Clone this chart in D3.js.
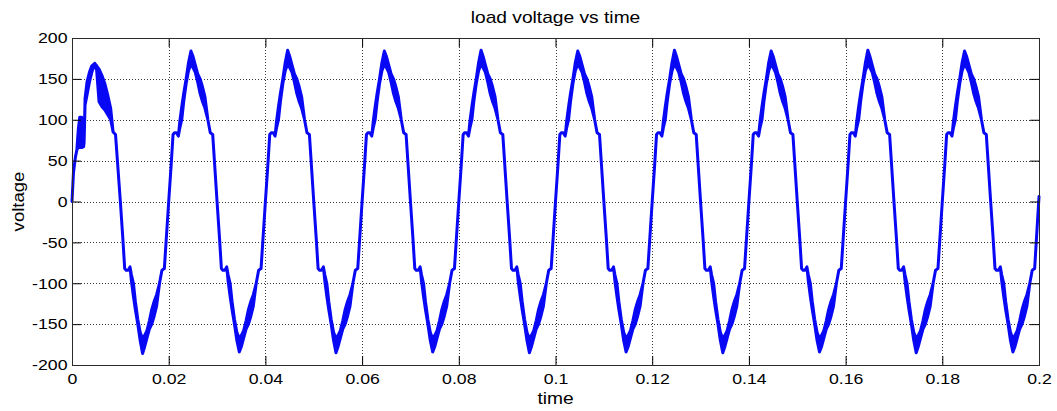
<!DOCTYPE html>
<html>
<head>
<meta charset="utf-8">
<script src="https://cdn.jsdelivr.net/npm/d3@7"></script>
<style>
  html, body { margin: 0; padding: 0; background: #ffffff; }
  svg { display: block; }
  text { font-family: "Liberation Sans", Arial, Helvetica, sans-serif; fill: #000; }
</style>
</head>
<body>
<svg id="chart" width="1057" height="411"></svg>
<script>
// Load voltage samples: time (s) and the lower / upper envelope of the trace (V).
// Where the switching ripple makes the trace thick, low and high differ.
const time = [
  0.0000,0.0003,0.0007,0.0010,0.0013,0.0016,0.0020,0.0024,0.0025,0.0027,0.0031,0.0036,0.0041,0.0047,0.0051,0.0056,0.0062,0.0068,0.0074,0.0080,0.0085,0.0090,
  0.0100,0.0105,0.0109,0.0112,0.0116,0.0120,0.0123,0.0127,0.0131,0.0136,0.0141,0.0146,0.0150,0.0155,0.0160,0.0165,0.0170,0.0175,0.0181,0.0186,0.0191,
  0.0200,0.0205,0.0209,0.0212,0.0216,0.0220,0.0223,0.0227,0.0231,0.0236,0.0241,0.0246,0.0250,0.0255,0.0260,0.0265,0.0270,0.0275,0.0281,0.0286,0.0291,
  0.0300,0.0305,0.0309,0.0312,0.0316,0.0320,0.0323,0.0327,0.0331,0.0336,0.0341,0.0346,0.0350,0.0355,0.0360,0.0365,0.0370,0.0375,0.0381,0.0386,0.0391,
  0.0400,0.0405,0.0409,0.0412,0.0416,0.0420,0.0423,0.0427,0.0431,0.0436,0.0441,0.0446,0.0450,0.0455,0.0460,0.0465,0.0470,0.0475,0.0481,0.0486,0.0491,
  0.0500,0.0505,0.0509,0.0512,0.0516,0.0520,0.0523,0.0527,0.0531,0.0536,0.0541,0.0546,0.0550,0.0555,0.0560,0.0565,0.0570,0.0575,0.0581,0.0586,0.0591,
  0.0600,0.0605,0.0609,0.0612,0.0616,0.0620,0.0623,0.0627,0.0631,0.0636,0.0641,0.0646,0.0650,0.0655,0.0660,0.0665,0.0670,0.0675,0.0681,0.0686,0.0691,
  0.0700,0.0705,0.0709,0.0712,0.0716,0.0720,0.0723,0.0727,0.0731,0.0736,0.0741,0.0746,0.0750,0.0755,0.0760,0.0765,0.0770,0.0775,0.0781,0.0786,0.0791,
  0.0800,0.0805,0.0809,0.0812,0.0816,0.0820,0.0823,0.0827,0.0831,0.0836,0.0841,0.0846,0.0850,0.0855,0.0860,0.0865,0.0870,0.0875,0.0881,0.0886,0.0891,
  0.0900,0.0905,0.0909,0.0912,0.0916,0.0920,0.0923,0.0927,0.0931,0.0936,0.0941,0.0946,0.0950,0.0955,0.0960,0.0965,0.0970,0.0975,0.0981,0.0986,0.0991,
  0.1000,0.1005,0.1009,0.1012,0.1016,0.1020,0.1023,0.1027,0.1031,0.1036,0.1041,0.1046,0.1050,0.1055,0.1060,0.1065,0.1070,0.1075,0.1081,0.1086,0.1091,
  0.1100,0.1105,0.1109,0.1112,0.1116,0.1120,0.1123,0.1127,0.1131,0.1136,0.1141,0.1146,0.1150,0.1155,0.1160,0.1165,0.1170,0.1175,0.1181,0.1186,0.1191,
  0.1200,0.1205,0.1209,0.1212,0.1216,0.1220,0.1223,0.1227,0.1231,0.1236,0.1241,0.1246,0.1250,0.1255,0.1260,0.1265,0.1270,0.1275,0.1281,0.1286,0.1291,
  0.1300,0.1305,0.1309,0.1312,0.1316,0.1320,0.1323,0.1327,0.1331,0.1336,0.1341,0.1346,0.1350,0.1355,0.1360,0.1365,0.1370,0.1375,0.1381,0.1386,0.1391,
  0.1400,0.1405,0.1409,0.1412,0.1416,0.1420,0.1423,0.1427,0.1431,0.1436,0.1441,0.1446,0.1450,0.1455,0.1460,0.1465,0.1470,0.1475,0.1481,0.1486,0.1491,
  0.1500,0.1505,0.1509,0.1512,0.1516,0.1520,0.1523,0.1527,0.1531,0.1536,0.1541,0.1546,0.1550,0.1555,0.1560,0.1565,0.1570,0.1575,0.1581,0.1586,0.1591,
  0.1600,0.1605,0.1609,0.1612,0.1616,0.1620,0.1623,0.1627,0.1631,0.1636,0.1641,0.1646,0.1650,0.1655,0.1660,0.1665,0.1670,0.1675,0.1681,0.1686,0.1691,
  0.1700,0.1705,0.1709,0.1712,0.1716,0.1720,0.1723,0.1727,0.1731,0.1736,0.1741,0.1746,0.1750,0.1755,0.1760,0.1765,0.1770,0.1775,0.1781,0.1786,0.1791,
  0.1800,0.1805,0.1809,0.1812,0.1816,0.1820,0.1823,0.1827,0.1831,0.1836,0.1841,0.1846,0.1850,0.1855,0.1860,0.1865,0.1870,0.1875,0.1881,0.1886,0.1891,
  0.1900,0.1905,0.1909,0.1912,0.1916,0.1920,0.1923,0.1927,0.1931,0.1936,0.1941,0.1946,0.1950,0.1955,0.1960,0.1965,0.1970,0.1975,0.1981,0.1986,0.1991,
  0.2000
];

const vLow = [
  0,35,54,63,66,66,66,67,72,118,130,146,158,169,160,122,116,112,106,100,85,82,
  0,-44,-82,-84,-84,-80,-98,-116,-132,-150,-170,-186,-178,-167,-156,-150,-140,-128,-100,-84,-82,
  0,44,82,84,84,80,90,100,122,144,160,168,164,158,146,132,122,114,100,84,82,
  0,-44,-82,-84,-84,-80,-98,-116,-132,-150,-170,-184,-178,-167,-156,-150,-140,-128,-100,-84,-82,
  0,44,82,84,84,80,90,100,122,144,160,168,164,158,146,132,122,114,100,84,82,
  0,-44,-82,-84,-84,-80,-98,-116,-132,-150,-170,-185,-178,-167,-156,-150,-140,-128,-100,-84,-82,
  0,44,82,84,84,80,90,100,122,144,160,168,164,158,146,132,122,114,100,84,82,
  0,-44,-82,-84,-84,-80,-98,-116,-132,-150,-170,-184,-178,-167,-156,-150,-140,-128,-100,-84,-82,
  0,44,82,84,84,80,90,100,122,144,160,168,164,158,146,132,122,114,100,84,82,
  0,-44,-82,-84,-84,-80,-98,-116,-132,-150,-170,-185,-178,-167,-156,-150,-140,-128,-100,-84,-82,
  0,44,82,84,84,80,90,100,122,144,160,168,164,158,146,132,122,114,100,84,82,
  0,-44,-82,-84,-84,-80,-98,-116,-132,-150,-170,-184,-178,-167,-156,-150,-140,-128,-100,-84,-82,
  0,44,82,84,84,80,90,100,122,144,160,168,164,158,146,132,122,114,100,84,82,
  0,-44,-82,-84,-84,-80,-98,-116,-132,-150,-170,-185,-178,-167,-156,-150,-140,-128,-100,-84,-82,
  0,44,82,84,84,80,90,100,122,144,160,168,164,158,146,132,122,114,100,84,82,
  0,-44,-82,-84,-84,-80,-98,-116,-132,-150,-170,-184,-178,-167,-156,-150,-140,-128,-100,-84,-82,
  0,44,82,84,84,80,90,100,122,144,160,168,164,158,146,132,122,114,100,84,82,
  0,-44,-82,-84,-84,-80,-98,-116,-132,-150,-170,-185,-178,-167,-156,-150,-140,-128,-100,-84,-82,
  0,44,82,84,84,80,90,100,122,144,160,168,164,158,146,132,122,114,100,84,82,
  0,-44,-82,-84,-84,-80,-98,-116,-132,-150,-170,-184,-178,-167,-156,-150,-140,-128,-100,-84,-82,
  6
];

const vHigh = [
  0,35,54,63,88,103,103,72,72,126,146,158,166,169,166,162,154,144,130,114,85,82,
  0,-44,-82,-84,-84,-80,-90,-100,-122,-144,-160,-168,-164,-158,-146,-132,-122,-114,-100,-84,-82,
  0,44,82,84,84,80,98,116,132,150,170,184,178,167,156,150,140,128,100,84,82,
  0,-44,-82,-84,-84,-80,-90,-100,-122,-144,-160,-168,-164,-158,-146,-132,-122,-114,-100,-84,-82,
  0,44,82,84,84,80,98,116,132,150,170,185,178,167,156,150,140,128,100,84,82,
  0,-44,-82,-84,-84,-80,-90,-100,-122,-144,-160,-168,-164,-158,-146,-132,-122,-114,-100,-84,-82,
  0,44,82,84,84,80,98,116,132,150,170,184,178,167,156,150,140,128,100,84,82,
  0,-44,-82,-84,-84,-80,-90,-100,-122,-144,-160,-168,-164,-158,-146,-132,-122,-114,-100,-84,-82,
  0,44,82,84,84,80,98,116,132,150,170,185,178,167,156,150,140,128,100,84,82,
  0,-44,-82,-84,-84,-80,-90,-100,-122,-144,-160,-168,-164,-158,-146,-132,-122,-114,-100,-84,-82,
  0,44,82,84,84,80,98,116,132,150,170,184,178,167,156,150,140,128,100,84,82,
  0,-44,-82,-84,-84,-80,-90,-100,-122,-144,-160,-168,-164,-158,-146,-132,-122,-114,-100,-84,-82,
  0,44,82,84,84,80,98,116,132,150,170,185,178,167,156,150,140,128,100,84,82,
  0,-44,-82,-84,-84,-80,-90,-100,-122,-144,-160,-168,-164,-158,-146,-132,-122,-114,-100,-84,-82,
  0,44,82,84,84,80,98,116,132,150,170,184,178,167,156,150,140,128,100,84,82,
  0,-44,-82,-84,-84,-80,-90,-100,-122,-144,-160,-168,-164,-158,-146,-132,-122,-114,-100,-84,-82,
  0,44,82,84,84,80,98,116,132,150,170,185,178,167,156,150,140,128,100,84,82,
  0,-44,-82,-84,-84,-80,-90,-100,-122,-144,-160,-168,-164,-158,-146,-132,-122,-114,-100,-84,-82,
  0,44,82,84,84,80,98,116,132,150,170,184,178,167,156,150,140,128,100,84,82,
  0,-44,-82,-84,-84,-80,-90,-100,-122,-144,-160,-168,-164,-158,-146,-132,-122,-114,-100,-84,-82,
  6
];

const xTicks = [0, 0.02, 0.04, 0.06, 0.08, 0.1, 0.12, 0.14, 0.16, 0.18, 0.2];
const xTickLabels = ["0", "0.02", "0.04", "0.06", "0.08", "0.1", "0.12", "0.14", "0.16", "0.18", "0.2"];
const yTicks = [-200, -150, -100, -50, 0, 50, 100, 150, 200];
const yTickLabels = ["-200", "-150", "-100", "-50", "0", "50", "100", "150", "200"];

const titleText = "load voltage vs time";
const xLabelText = "time";
const yLabelText = "voltage";

// ---- layout ----
const W = 1057, H = 411;
const margin = { top: 38, right: 18, bottom: 46, left: 72 };
const plotW = W - margin.left - margin.right;
const plotH = H - margin.top - margin.bottom;
const tickLen = 9;
const traceColor = "#0808f4";
const tickFont = 15, labelFont = 16;
const tickStretch = 1.18, labelStretch = 1.2;

const svg = d3.select("#chart");

const x = d3.scaleLinear().domain([0, 0.2]).range([0, plotW]);
const y = d3.scaleLinear().domain([-200, 200]).range([plotH, 0]);

const g = svg.append("g").attr("transform", `translate(${margin.left},${margin.top})`);

// dotted grid at every interior tick
const grid = g.append("g").attr("class", "grid")
  .attr("stroke", "#3a3a3a").attr("stroke-width", 1).attr("stroke-dasharray", "1,2");
grid.selectAll("line.gx").data(xTicks.slice(1, -1)).join("line")
  .attr("class", "gx")
  .attr("x1", d => Math.round(x(d)) + 0.5).attr("x2", d => Math.round(x(d)) + 0.5)
  .attr("y1", 0).attr("y2", plotH);
grid.selectAll("line.gy").data(yTicks.slice(1, -1)).join("line")
  .attr("class", "gy")
  .attr("y1", d => Math.round(y(d)) + 0.5).attr("y2", d => Math.round(y(d)) + 0.5)
  .attr("x1", 0).attr("x2", plotW);

// voltage trace: filled band between envelopes, outlined so thin parts read as a line
const samples = time.map((t, i) => ({ t, lo: vLow[i], hi: vHigh[i] }));
const band = d3.area()
  .x(d => x(d.t))
  .y0(d => y(d.lo))
  .y1(d => y(d.hi));
g.append("path")
  .datum(samples)
  .attr("d", band)
  .attr("fill", traceColor)
  .attr("stroke", traceColor)
  .attr("stroke-width", 3)
  .attr("stroke-linejoin", "round")
  .attr("stroke-linecap", "round");

// axes with inward ticks on all four sides
function styleAxis(sel) {
  sel.select(".domain").remove();
  sel.selectAll(".tick line").attr("stroke", "#000").attr("stroke-width", 1);
  sel.selectAll(".tick text").style("font-size", tickFont + "px").attr("fill", "#000");
}

const xAxisBottom = d3.axisBottom(x).tickValues(xTicks)
  .tickFormat((d, i) => xTickLabels[i]).tickSizeInner(-tickLen).tickSizeOuter(0).tickPadding(8);
const xb = g.append("g").attr("transform", `translate(0,${plotH})`).call(xAxisBottom).call(styleAxis);
xb.selectAll(".tick text").attr("transform", `scale(${tickStretch},1)`);

const xAxisTop = d3.axisTop(x).tickValues(xTicks).tickFormat("").tickSizeInner(-tickLen).tickSizeOuter(0);
g.append("g").call(xAxisTop).call(styleAxis);

const yAxisLeft = d3.axisLeft(y).tickValues(yTicks)
  .tickFormat((d, i) => yTickLabels[i]).tickSizeInner(-tickLen).tickSizeOuter(0).tickPadding(4);
const yl = g.append("g").call(yAxisLeft).call(styleAxis);
yl.selectAll(".tick text").attr("x", -4.5 / tickStretch).attr("transform", `scale(${tickStretch},1)`);

const yAxisRight = d3.axisRight(y).tickValues(yTicks).tickFormat("").tickSizeInner(-tickLen).tickSizeOuter(0);
g.append("g").attr("transform", `translate(${plotW},0)`).call(yAxisRight).call(styleAxis);

// axes box
g.append("rect")
  .attr("x", 0.5).attr("y", 0.5)
  .attr("width", plotW).attr("height", plotH)
  .attr("fill", "none").attr("stroke", "#2a2a2a").attr("stroke-width", 1);

// title and axis labels
svg.append("g")
  .attr("transform", `translate(${margin.left + plotW / 2},23) scale(${labelStretch},1)`)
  .append("text").attr("text-anchor", "middle").style("font-size", labelFont + "px").text(titleText);

svg.append("g")
  .attr("transform", `translate(${margin.left + plotW / 2},404) scale(${labelStretch},1)`)
  .append("text").attr("text-anchor", "middle").style("font-size", labelFont + "px").text(xLabelText);

svg.append("g")
  .attr("transform", `translate(23.5,${margin.top + plotH / 2}) rotate(-90) scale(1.16,1)`)
  .append("text").attr("text-anchor", "middle").style("font-size", labelFont + "px").text(yLabelText);
</script>
</body>
</html>
